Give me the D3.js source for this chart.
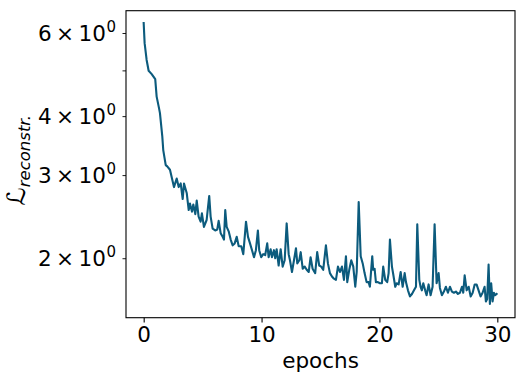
<!DOCTYPE html>
<html><head><meta charset="utf-8">
<script src="https://cdn.jsdelivr.net/npm/d3@7"></script>
<style>body{margin:0;background:#fff}svg{display:block}</style>
</head><body><svg id="c" width="523" height="383"></svg>
<script>
const epochs=[0,0.08,0.25,0.42,0.68,0.98,1.10,1.30,1.38,1.58,1.66,1.87,2.00,2.23,2.57,2.80,2.97,3.14,3.31,3.42,3.65,3.82,3.93,4.10,4.21,4.38,4.50,4.66,4.83,4.94,5.11,5.34,5.56,5.68,5.85,6.07,6.24,6.36,6.53,6.70,6.81,6.92,7.04,7.21,7.38,7.55,7.72,7.89,8.06,8.28,8.45,8.68,8.85,9.02,9.19,9.36,9.52,9.69,9.80,9.97,10.14,10.31,10.48,10.60,10.77,10.88,11.05,11.16,11.28,11.45,11.62,11.79,11.96,12.13,12.30,12.41,12.58,12.75,12.92,13.03,13.20,13.32,13.49,13.66,13.83,14.00,14.16,14.33,14.55,14.72,14.89,15.06,15.23,15.46,15.63,15.80,15.97,16.14,16.31,16.48,16.65,16.82,16.99,17.16,17.27,17.44,17.61,17.78,17.95,18.07,18.24,18.41,18.58,18.74,18.91,19.08,19.19,19.30,19.39,19.47,19.59,19.70,19.87,20.04,20.21,20.32,20.49,20.66,20.78,20.89,21.06,21.17,21.34,21.46,21.63,21.80,21.97,22.14,22.25,22.42,22.59,22.76,22.93,23.10,23.21,23.38,23.49,23.60,23.72,23.88,24.00,24.17,24.34,24.51,24.68,24.85,25.02,25.13,25.30,25.47,25.64,25.81,25.98,26.15,26.32,26.49,26.66,26.83,27.00,27.11,27.23,27.40,27.57,27.74,27.91,28.08,28.24,28.41,28.58,28.75,28.92,29.03,29.14,29.26,29.37,29.48,29.60,29.71,29.82,29.94];
const loss=[6.30,5.71,5.26,4.99,4.91,4.79,4.40,4.16,4.06,3.62,3.39,3.15,3.13,3.08,2.83,2.95,2.83,2.88,2.67,2.88,2.75,2.53,2.61,2.51,2.60,2.48,2.65,2.45,2.39,2.49,2.33,2.41,2.71,2.45,2.31,2.29,2.30,2.40,2.26,2.22,2.19,2.53,2.33,2.28,2.19,2.13,2.15,2.22,2.12,2.12,2.04,2.39,2.22,2.15,2.08,2.01,2.08,2.29,2.08,2.01,2.04,2.03,2.15,2.01,2.09,2.01,2.08,2.00,2.09,1.93,2.09,1.92,1.98,2.37,2.04,1.98,1.87,1.98,2.10,1.95,1.98,2.06,1.90,1.92,1.89,1.87,2.01,1.90,1.86,2.06,1.93,1.92,1.89,2.13,1.95,1.86,1.83,1.81,1.80,1.92,1.87,1.92,1.80,2.02,1.78,1.89,1.98,1.92,1.74,1.87,2.63,2.02,1.95,1.86,1.78,1.78,1.74,1.89,2.02,1.89,1.90,1.78,1.78,1.77,1.77,1.92,1.80,1.78,1.86,2.19,1.92,1.85,1.74,1.77,1.76,1.87,1.74,1.86,1.78,1.71,1.66,1.68,1.71,1.74,2.36,1.80,1.74,1.71,1.77,1.71,1.67,1.76,1.67,1.74,2.36,1.77,1.86,1.73,1.67,1.70,1.74,1.69,1.74,1.70,1.69,1.70,1.68,1.69,1.74,1.69,1.84,1.71,1.74,1.66,1.69,1.76,1.76,1.71,1.66,1.69,1.74,1.62,1.64,1.94,1.60,1.77,1.62,1.69,1.67,1.68];
const xTicks=[0,10,20,30];
const yTicks=[2,3,4,6];
const yMinorTicks=[5];
const xLabel="epochs";
const lineColor="#0c5b7d";

const svg=d3.select("#c");
const L=126,R=515,T=10.7,B=317.7;
const x=d3.scaleLinear().domain([-1.5,31.5]).range([L,R]);
const y=d3.scaleLog().domain([1.4963,6.690]).range([B,T]);
const font="DejaVu Sans, sans-serif";
const fs=21.5;

const data=epochs.map((e,i)=>({e,v:loss[i]}));
svg.append("path").datum(data)
  .attr("fill","none").attr("stroke",lineColor).attr("stroke-width",2.1)
  .attr("stroke-linejoin","round").attr("stroke-linecap","square")
  .attr("d",d3.line().x(d=>x(d.e)).y(d=>y(d.v)));

// frame
svg.append("rect").attr("x",L).attr("y",T).attr("width",R-L).attr("height",B-T)
  .attr("fill","none").attr("stroke","#000").attr("stroke-width",1.1);

// x axis
const xa=svg.append("g").attr("transform",`translate(0,${B})`)
  .call(d3.axisBottom(x).tickValues(xTicks).tickSize(4.9).tickPadding(4.5).tickFormat(d3.format("d")));
xa.select(".domain").remove();
xa.selectAll("line").attr("stroke","#000").attr("stroke-width",1.1);
xa.selectAll("text").attr("font-family",font).attr("font-size",fs).attr("fill","#000");

// y axis ticks
const ya=svg.append("g").attr("transform",`translate(${L},0)`)
  .call(d3.axisLeft(y).tickValues(yTicks.concat(yMinorTicks)).tickSize(3.5).tickFormat(""));
ya.select(".domain").remove();
ya.selectAll("line").attr("stroke","#000").attr("stroke-width",0.9);

// y tick labels: "n × 10^0"
yTicks.forEach(v=>{
  const t=svg.append("text").attr("x",116).attr("y",y(v)+7.8)
    .attr("text-anchor","end").attr("font-family",font).attr("font-size",fs).attr("fill","#000");
  t.append("tspan").text(v);
  t.append("tspan").attr("dx",4.5).text("×");
  t.append("tspan").attr("dx",4.5).text("10");
  t.append("tspan").attr("dy",-9).attr("dx",0.5).attr("font-size",15).text("0");
});

// x label
svg.append("text").attr("x",(L+R)/2).attr("y",368).attr("text-anchor","middle")
  .attr("font-family",font).attr("font-size",fs).attr("fill","#000").text(xLabel);

// y label
const yl=svg.append("text").attr("transform",`translate(25,${(T+B)/2-4}) rotate(-90)`)
  .attr("text-anchor","middle").attr("font-family",font).attr("fill","#000");
yl.append("tspan").attr("font-size",25).attr("font-style","italic").text("ℒ");
yl.append("tspan").attr("font-size",16.5).attr("font-style","italic").attr("dy",5).text("reconstr.");
</script></body></html>
